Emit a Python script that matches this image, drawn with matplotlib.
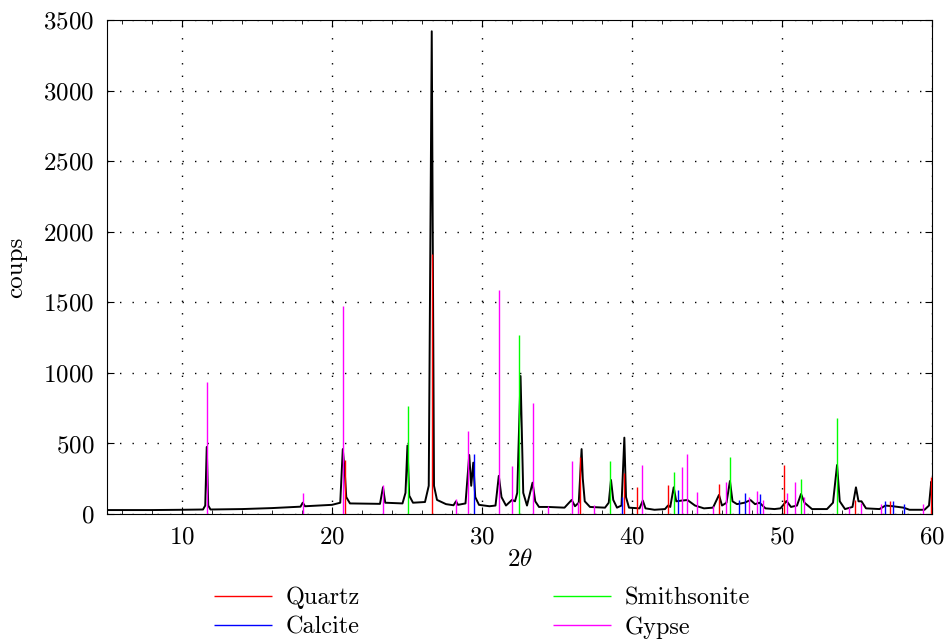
import matplotlib
matplotlib.use("Agg")
import matplotlib.pyplot as plt
from matplotlib.ticker import MultipleLocator

pattern_2theta = [
    5.0, 8.0, 10.0, 11.4, 11.55, 11.65, 11.75, 11.9, 14.0, 16.0,
    17.9, 18.05, 18.2, 20.0, 20.55, 20.72, 20.85, 20.95, 21.2, 23.2,
    23.4, 23.55, 24.7, 24.9, 25.03, 25.15, 25.4, 26.2, 26.45, 26.65,
    26.8, 27.0, 27.6, 28.1, 28.27, 28.4, 28.9, 29.15, 29.28, 29.42,
    29.55, 29.8, 30.5, 30.9, 31.12, 31.3, 31.6, 32.0, 32.2, 32.35,
    32.57, 32.75, 33.0, 33.37, 33.55, 33.8, 34.4, 35.5, 35.98, 36.2,
    36.45, 36.64, 36.72, 36.85, 37.2, 38.2, 38.45, 38.6, 38.75, 39.0,
    39.3, 39.49, 39.6, 39.8, 40.5, 40.72, 40.9, 41.5, 42.2, 42.4,
    42.55, 42.78, 42.95, 43.3, 43.7, 44.2, 44.8, 45.4, 45.8, 46.0,
    46.3, 46.53, 46.7, 47.0, 47.5, 47.9, 48.2, 48.5, 48.9, 49.5,
    49.9, 50.3, 50.6, 51.0, 51.27, 51.5, 52.0, 53.0, 53.4, 53.67,
    53.85, 54.2, 54.7, 54.93, 55.1, 55.3, 55.6, 56.5, 56.9, 57.4,
    58.1, 58.5, 59.5, 59.8, 59.95, 60.0,
]
pattern_counts = [
    28, 28, 30, 32, 60, 475, 60, 32, 35, 42,
    52, 80, 55, 65, 80, 460, 300, 120, 75, 72,
    190, 80, 75, 150, 485, 130, 80, 85, 200, 3420,
    200, 100, 70, 62, 90, 65, 75, 418, 200, 364,
    120, 65, 55, 60, 270, 120, 60, 100, 90, 150,
    978, 150, 60, 222, 90, 50, 50, 45, 100, 55,
    80, 460, 250, 90, 50, 45, 80, 241, 100, 45,
    60, 541, 120, 45, 40, 95, 40, 30, 35, 60,
    50, 189, 90, 95, 99, 60, 40, 45, 135, 60,
    80, 234, 90, 70, 80, 99, 70, 80, 40, 35,
    40, 92, 50, 60, 142, 80, 35, 35, 80, 347,
    90, 35, 50, 189, 90, 90, 40, 35, 60, 55,
    45, 30, 30, 60, 229, 200,
]

# reference sticks
quartz_pos = [20.85, 26.68, 36.52, 39.5, 40.32, 42.4, 45.78, 50.12, 54.85, 57.2, 59.92]
quartz_int = [380, 1840, 406, 288, 193, 204, 212, 347, 99, 90, 260]

calcite_pos = [29.45, 39.33, 43.1, 47.11, 47.51, 48.53, 56.87, 57.42, 58.11]
calcite_int = [423, 118, 170, 99, 151, 142, 90, 90, 70]

smith_pos = [25.05, 32.47, 38.53, 42.77, 46.53, 51.27, 53.67]
smith_int = [765, 1268, 373, 295, 406, 246, 678]

gypse_pos = [11.65, 18.05, 20.72, 23.4, 28.27, 29.09, 31.11, 31.98, 33.42, 34.38,
             35.98, 36.38, 37.45, 40.7, 43.36, 43.67, 44.33, 45.4, 46.29, 47.82,
             48.31, 48.71, 50.31, 50.87, 51.49, 54.47, 55.27, 56.6, 59.42]
gypse_int = [935, 151, 1474, 203, 104, 585, 1587, 340, 789, 57,
             373, 87, 64, 347, 331, 425, 158, 60, 229, 118,
             160, 99, 151, 227, 120, 50, 80, 70, 70]

plt.rcParams["font.family"] = "cmr10"
plt.rcParams["mathtext.fontset"] = "cm"
plt.rcParams["axes.formatter.use_mathtext"] = True
plt.rcParams["font.size"] = 18

fig = plt.figure(figsize=(9.46, 6.39), dpi=100)
ax = fig.add_axes([0.1131, 0.1956, 0.8721, 0.7731])

ax.plot(pattern_2theta, pattern_counts, color="black", lw=1.4, zorder=2)
ax.vlines(quartz_pos, 0, quartz_int, color="#ff0000", lw=1.0, zorder=3, label="Quartz")
ax.vlines(smith_pos, 0, smith_int, color="#00ff00", lw=1.0, zorder=3, label="Smithsonite")
ax.vlines(calcite_pos, 0, calcite_int, color="#0000ff", lw=1.0, zorder=3, label="Calcite")
ax.vlines(gypse_pos, 0, gypse_int, color="#ff00ff", lw=1.0, zorder=3, label="Gypse")

ax.set_xlim(5, 60)
ax.set_ylim(0, 3500)
ax.xaxis.set_major_locator(MultipleLocator(10))
ax.xaxis.set_minor_locator(MultipleLocator(2))
ax.yaxis.set_major_locator(MultipleLocator(500))
ax.tick_params(which="both", direction="in", top=True, right=True)
ax.tick_params(which="major", length=5, pad=9, labelsize=18)
ax.tick_params(which="minor", length=3)
ax.grid(True, which="major", color="black", linestyle=(0, (1, 8)), lw=1.0)

ax.set_xlabel(r"$2\theta$", labelpad=0)
ax.set_ylabel("coups", labelpad=12)

h, l = ax.get_legend_handles_labels()
order = [0, 2, 1, 3]  # Quartz, Calcite | Smithsonite, Gypse
fig.legend([h[i] for i in order], [l[i] for i in order], ncol=2, frameon=False,
           loc="upper left", bbox_to_anchor=(0.226, 0.082), handlelength=2.4,
           handletextpad=0.55, columnspacing=7.95, labelspacing=0.3,
           borderpad=0.0, borderaxespad=0.0, fontsize=17.5)

fig.savefig("out.png", dpi=100)
